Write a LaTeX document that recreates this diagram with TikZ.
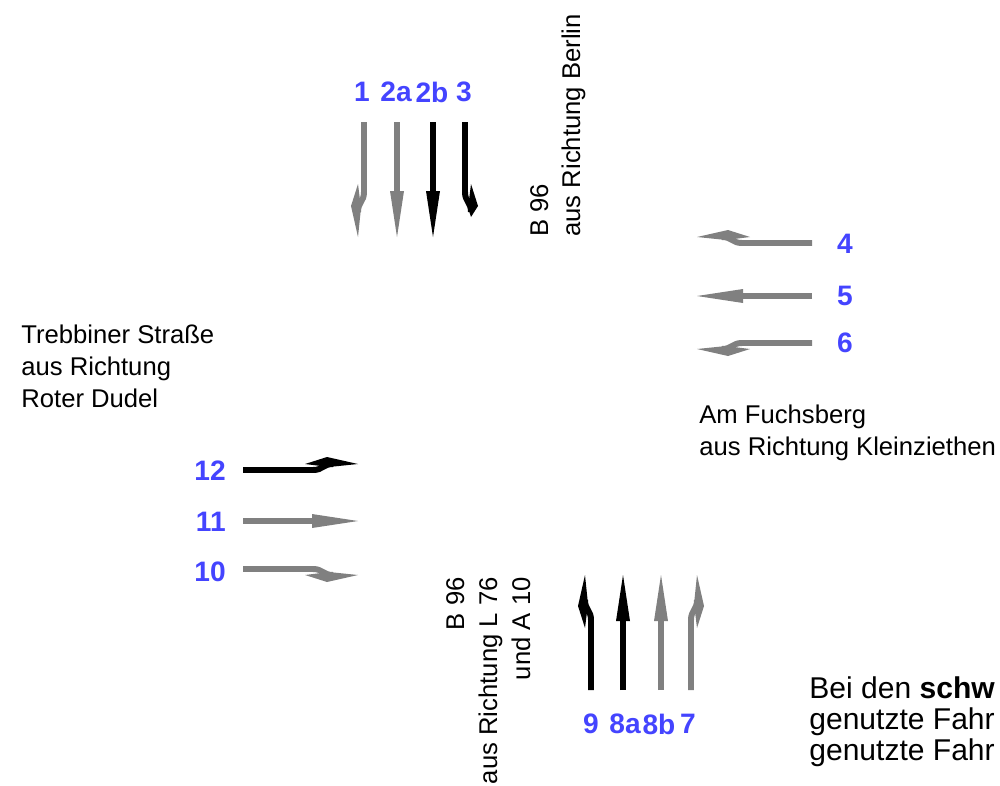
\documentclass[tikz,border=0pt]{standalone}
\usepackage{fontspec}
\setmainfont{Liberation Sans}

\definecolor{lanegray}{RGB}{128,128,128}
\definecolor{numblue}{RGB}{68,68,255}

% lane arrow pointing along +x, turning towards -y
\newcommand{\laneturn}[2][115]{%
\draw[line width=3.4pt,#2] (0,0) -- (70,0) .. controls (80,0) and (80,-6) .. (90,-6);
\fill[#2] (62,-6) -- (84,-13) -- (#1,-6) -- (86,-3) -- cycle;
}
\newcommand{\lanestraight}[1]{%
\draw[line width=3.4pt,#1] (0,0) -- (72,0);
\fill[#1] (69,-7) -- (115,0) -- (69,7) -- cycle;
}

\begin{document}
\begin{tikzpicture}[x=0.02cm,y=-0.02cm,
  num/.style={text=numblue,inner sep=0pt,font=\fontsize{16}{19}\selectfont\bfseries},
  lbl/.style={inner sep=0pt,font=\fontsize{14.6}{18}\selectfont},
  hint/.style={inner sep=0pt,font=\fontsize{17.1}{18}\selectfont}]
\useasboundingbox (0,0) rectangle (1000,785);
\clip (0,0) rectangle (1000,785);

% Zufahrt Nord
\begin{scope}[shift={(364,122)},rotate=-90,yscale=-1] \laneturn{lanegray} \end{scope}
\begin{scope}[shift={(397,122)},rotate=-90] \lanestraight{lanegray} \end{scope}
\begin{scope}[shift={(433,122)},rotate=-90] \lanestraight{black} \end{scope}
\begin{scope}[shift={(465,122)},rotate=-90] \laneturn[95]{black} \end{scope}
\node[num] (n1) at (362,92) {1};
\node[num] (n2a) at (396,92) {2a};
\node[num] (n2b) at (432,92) {2b};
\node[num] (n3) at (464,92) {3};
\node[lbl,rotate=90,anchor=base west] (nordA) at (548,237) {B 96};
\node[lbl,rotate=90,anchor=base west] (nordB) at (580,237) {aus Richtung Berlin};

% Zufahrt Ost
\begin{scope}[shift={(812,243)},rotate=180,yscale=-1] \laneturn{lanegray} \end{scope}
\begin{scope}[shift={(812,296)},rotate=180] \lanestraight{lanegray} \end{scope}
\begin{scope}[shift={(812,343)},rotate=180] \laneturn{lanegray} \end{scope}
\node[num] (n4) at (845,244) {4};
\node[num] (n5) at (845,296) {5};
\node[num] (n6) at (845,343) {6};
\node[lbl,anchor=base west] (ostA) at (699,423) {Am Fuchsberg};
\node[lbl,anchor=base west] (ostB) at (699,455) {aus Richtung Kleinziethen};

% Zufahrt West
\begin{scope}[shift={(243,470)}] \laneturn{black} \end{scope}
\begin{scope}[shift={(243,521)}] \lanestraight{lanegray} \end{scope}
\begin{scope}[shift={(243,569)},yscale=-1] \laneturn{lanegray} \end{scope}
\node[num,anchor=east] (n12) at (226,471) {12};
\node[num,anchor=east] (n11) at (226,522) {11};
\node[num,anchor=east] (n10) at (226,572) {10};
\node[lbl,anchor=base west] (westA) at (21,343) {Trebbiner Straße};
\node[lbl,anchor=base west] (westB) at (21,375) {aus Richtung};
\node[lbl,anchor=base west] (westC) at (21,407) {Roter Dudel};

% Zufahrt Sued
\begin{scope}[shift={(591,690)},rotate=90] \laneturn{black} \end{scope}
\begin{scope}[shift={(623,690)},rotate=90] \lanestraight{black} \end{scope}
\begin{scope}[shift={(661,690)},rotate=90] \lanestraight{lanegray} \end{scope}
\begin{scope}[shift={(691,690)},rotate=90,yscale=-1] \laneturn{lanegray} \end{scope}
\node[num] (n9) at (591,724) {9};
\node[num] (n8a) at (625,724) {8a};
\node[num] (n8b) at (659,724) {8b};
\node[num] (n7) at (688,724) {7};
\node[lbl,rotate=90,anchor=base east] (suedA) at (464,577) {B 96};
\node[lbl,rotate=90,anchor=base east] (suedB) at (497,577) {aus Richtung L 76};
\node[lbl,rotate=90,anchor=base east] (suedC) at (530,577) {und A 10};

% Hinweis
\node[hint,anchor=base west] (hinwA) at (809,698) {Bei den \textbf{schw}};
\node[hint,anchor=base west] (hinwB) at (809,729) {genutzte Fahr};
\node[hint,anchor=base west] (hinwC) at (809,760) {genutzte Fahr};
\end{tikzpicture}
\end{document}
